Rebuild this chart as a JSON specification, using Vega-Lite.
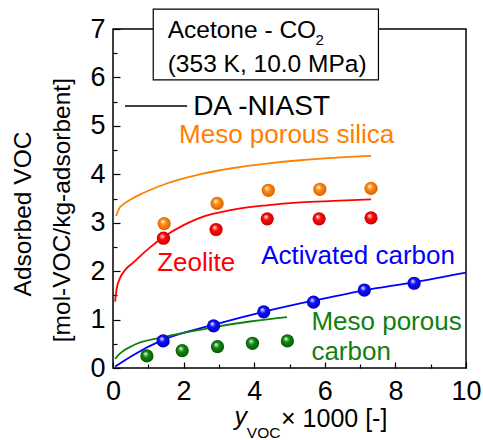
{
  "$schema": "https://vega.github.io/schema/vega-lite/v6.json",
  "width": 353,
  "height": 339,
  "autosize": "none",
  "padding": {"left": 113, "top": 29, "right": 17, "bottom": 72},
  "background": "white",
  "config": {
    "font": "Liberation Sans",
    "view": {"stroke": "black", "strokeWidth": 1.5},
    "axis": {"grid": false, "domain": false, "labelFont": "Liberation Sans", "labelColor": "black", "tickColor": "black"}
  },
  "datasets": {
    "pts": [
      {"s": "silica", "x": 1.45, "y": 2.98}, {"s": "silica", "x": 2.95, "y": 3.40}, {"s": "silica", "x": 4.40, "y": 3.67}, {"s": "silica", "x": 5.86, "y": 3.69}, {"s": "silica", "x": 7.31, "y": 3.71},
      {"s": "zeolite", "x": 1.43, "y": 2.68}, {"s": "zeolite", "x": 2.92, "y": 2.86}, {"s": "zeolite", "x": 4.37, "y": 3.08}, {"s": "zeolite", "x": 5.84, "y": 3.08}, {"s": "zeolite", "x": 7.31, "y": 3.10},
      {"s": "ac", "x": 1.42, "y": 0.56}, {"s": "ac", "x": 2.85, "y": 0.87}, {"s": "ac", "x": 4.27, "y": 1.16}, {"s": "ac", "x": 5.68, "y": 1.36}, {"s": "ac", "x": 7.12, "y": 1.61}, {"s": "ac", "x": 8.53, "y": 1.75},
      {"s": "mc", "x": 0.96, "y": 0.25}, {"s": "mc", "x": 1.96, "y": 0.36}, {"s": "mc", "x": 2.96, "y": 0.44}, {"s": "mc", "x": 3.95, "y": 0.51}, {"s": "mc", "x": 4.94, "y": 0.56}
    ],
    "curves": [
      {"s": "silica", "x": 0.09, "y": 3.14}, {"s": "silica", "x": 0.18, "y": 3.30}, {"s": "silica", "x": 0.29, "y": 3.38}, {"s": "silica", "x": 0.5, "y": 3.48}, {"s": "silica", "x": 0.76, "y": 3.58}, {"s": "silica", "x": 1.0, "y": 3.66}, {"s": "silica", "x": 1.52, "y": 3.81}, {"s": "silica", "x": 2.46, "y": 4.0}, {"s": "silica", "x": 3.41, "y": 4.13}, {"s": "silica", "x": 4.35, "y": 4.22}, {"s": "silica", "x": 5.3, "y": 4.29}, {"s": "silica", "x": 6.24, "y": 4.34}, {"s": "silica", "x": 7.31, "y": 4.38},
      {"s": "zeolite", "x": 0.06, "y": 1.37}, {"s": "zeolite", "x": 0.1, "y": 1.62}, {"s": "zeolite", "x": 0.2, "y": 1.86}, {"s": "zeolite", "x": 0.34, "y": 2.02}, {"s": "zeolite", "x": 0.58, "y": 2.18}, {"s": "zeolite", "x": 0.8, "y": 2.33}, {"s": "zeolite", "x": 1.05, "y": 2.49}, {"s": "zeolite", "x": 1.42, "y": 2.70}, {"s": "zeolite", "x": 2.0, "y": 2.95}, {"s": "zeolite", "x": 2.46, "y": 3.10}, {"s": "zeolite", "x": 3.41, "y": 3.27}, {"s": "zeolite", "x": 4.35, "y": 3.36}, {"s": "zeolite", "x": 5.3, "y": 3.42}, {"s": "zeolite", "x": 6.24, "y": 3.45}, {"s": "zeolite", "x": 7.31, "y": 3.48},
      {"s": "ac", "x": 0.06, "y": 0.03}, {"s": "ac", "x": 0.58, "y": 0.27}, {"s": "ac", "x": 1.41, "y": 0.58}, {"s": "ac", "x": 2.84, "y": 0.89}, {"s": "ac", "x": 4.26, "y": 1.16}, {"s": "ac", "x": 5.67, "y": 1.39}, {"s": "ac", "x": 7.09, "y": 1.60}, {"s": "ac", "x": 8.51, "y": 1.77}, {"s": "ac", "x": 10.0, "y": 1.97},
      {"s": "mc", "x": 0.06, "y": 0.19}, {"s": "mc", "x": 0.2, "y": 0.30}, {"s": "mc", "x": 0.58, "y": 0.47}, {"s": "mc", "x": 1.38, "y": 0.63}, {"s": "mc", "x": 2.84, "y": 0.84}, {"s": "mc", "x": 3.88, "y": 0.96}, {"s": "mc", "x": 4.93, "y": 1.05}
    ],
    "notes": [
      {"t": "Meso porous silica", "s": "silica", "x": 1.87, "y": 4.64},
      {"t": "Zeolite", "s": "zeolite", "x": 1.25, "y": 2.01},
      {"t": "Activated carbon", "s": "ac", "x": 4.2, "y": 2.15},
      {"t": "Meso porous", "s": "mc", "x": 5.62, "y": 0.79},
      {"t": "carbon", "s": "mc", "x": 5.62, "y": 0.155}
    ]
  },
  "layer": [
    {
      "data": {"name": "curves"},
      "mark": {"type": "line", "interpolate": "monotone", "strokeWidth": 1.8},
      "encoding": {
        "x": {"field": "x", "type": "quantitative", "scale": {"domain": [0, 10], "nice": false},
          "axis": {"orient": "bottom", "values": [0, 2, 4, 6, 8, 10], "tickSize": -6, "tickWidth": 1.2, "labelFontSize": 27, "labelPadding": 16, "labelFlush": false, "labelOverlap": false, "title": null}},
        "y": {"field": "y", "type": "quantitative", "scale": {"domain": [0, 7], "nice": false},
          "axis": {"orient": "left", "values": [0, 1, 2, 3, 4, 5, 6, 7], "tickSize": -7, "tickWidth": 1.2, "labelFontSize": 27, "labelPadding": 15, "labelFlush": false, "labelOverlap": false, "title": null}},
        "color": {"field": "s", "type": "nominal", "scale": {"domain": ["silica", "zeolite", "ac", "mc"], "range": ["#ff8000", "#ff0000", "#0000ff", "#108010"]}, "legend": null}
      }
    },
    {
      "data": {"name": "pts"},
      "transform": [{"filter": "datum.s === 'silica'"}],
      "mark": {"type": "point", "shape": "circle", "filled": true, "size": 175, "strokeWidth": 0, "opacity": 1,
        "fill": {"gradient": "radial", "x1": 0.38, "y1": 0.32, "r1": 0, "x2": 0.5, "y2": 0.5, "r2": 0.55,
          "stops": [{"offset": 0, "color": "#ffffff"}, {"offset": 0.15, "color": "#ffd0a0"}, {"offset": 0.4, "color": "#ff8a10"}, {"offset": 1, "color": "#d06000"}]}},
      "encoding": {
        "x": {"field": "x", "type": "quantitative", "scale": {"domain": [0, 10], "nice": false},
          "axis": {"orient": "bottom", "values": [1, 3, 5, 7, 9], "tickSize": -4, "tickWidth": 1.2, "labels": false, "title": null}},
        "y": {"field": "y", "type": "quantitative", "scale": {"domain": [0, 7], "nice": false},
          "axis": {"orient": "left", "values": [0.5, 1.5, 2.5, 3.5, 4.5, 5.5, 6.5], "tickSize": -4, "tickWidth": 1.2, "labels": false, "title": null}}
      }
    },
    {
      "data": {"name": "pts"},
      "transform": [{"filter": "datum.s === 'zeolite'"}],
      "mark": {"type": "point", "shape": "circle", "filled": true, "size": 175, "strokeWidth": 0, "opacity": 1,
        "fill": {"gradient": "radial", "x1": 0.38, "y1": 0.32, "r1": 0, "x2": 0.5, "y2": 0.5, "r2": 0.55,
          "stops": [{"offset": 0, "color": "#ffffff"}, {"offset": 0.15, "color": "#ffa0a0"}, {"offset": 0.4, "color": "#ff0a0a"}, {"offset": 1, "color": "#c00000"}]}},
      "encoding": {
        "x": {"field": "x", "type": "quantitative", "scale": {"domain": [0, 10], "nice": false}, "axis": null},
        "y": {"field": "y", "type": "quantitative", "scale": {"domain": [0, 7], "nice": false}, "axis": null}
      }
    },
    {
      "data": {"name": "pts"},
      "transform": [{"filter": "datum.s === 'ac'"}],
      "mark": {"type": "point", "shape": "circle", "filled": true, "size": 175, "strokeWidth": 0, "opacity": 1,
        "fill": {"gradient": "radial", "x1": 0.38, "y1": 0.32, "r1": 0, "x2": 0.5, "y2": 0.5, "r2": 0.55,
          "stops": [{"offset": 0, "color": "#ffffff"}, {"offset": 0.15, "color": "#a0a0ff"}, {"offset": 0.4, "color": "#1010ff"}, {"offset": 1, "color": "#0000b0"}]}},
      "encoding": {
        "x": {"field": "x", "type": "quantitative", "scale": {"domain": [0, 10], "nice": false}, "axis": null},
        "y": {"field": "y", "type": "quantitative", "scale": {"domain": [0, 7], "nice": false}, "axis": null}
      }
    },
    {
      "data": {"name": "pts"},
      "transform": [{"filter": "datum.s === 'mc'"}],
      "mark": {"type": "point", "shape": "circle", "filled": true, "size": 175, "strokeWidth": 0, "opacity": 1,
        "fill": {"gradient": "radial", "x1": 0.38, "y1": 0.32, "r1": 0, "x2": 0.5, "y2": 0.5, "r2": 0.55,
          "stops": [{"offset": 0, "color": "#ffffff"}, {"offset": 0.15, "color": "#a0d0a0"}, {"offset": 0.4, "color": "#108a10"}, {"offset": 1, "color": "#005500"}]}},
      "encoding": {
        "x": {"field": "x", "type": "quantitative", "scale": {"domain": [0, 10], "nice": false}, "axis": null},
        "y": {"field": "y", "type": "quantitative", "scale": {"domain": [0, 7], "nice": false}, "axis": null}
      }
    },
    {
      "data": {"values": [{"x": 1.14, "x2": 7.52, "y": 7.41, "y2": 5.95}]},
      "mark": {"type": "rect", "fill": "white", "stroke": "black", "strokeWidth": 1.2},
      "encoding": {
        "x": {"field": "x", "type": "quantitative", "scale": {"domain": [0, 10], "nice": false}, "axis": null},
        "x2": {"field": "x2"},
        "y": {"field": "y", "type": "quantitative", "scale": {"domain": [0, 7], "nice": false}, "axis": null},
        "y2": {"field": "y2"}
      }
    },
    {
      "data": {"values": [{"x": 0.34, "x2": 2.10, "y": 5.41}]},
      "mark": {"type": "rule", "color": "black", "strokeWidth": 1.5},
      "encoding": {
        "x": {"field": "x", "type": "quantitative", "scale": {"domain": [0, 10], "nice": false}, "axis": null},
        "x2": {"field": "x2"},
        "y": {"field": "y", "type": "quantitative", "scale": {"domain": [0, 7], "nice": false}, "axis": null}
      }
    },
    {
      "data": {"values": [{"t": "Acetone - CO", "x": 1.55, "y": 6.81}, {"t": "(353 K, 10.0 MPa)", "x": 1.55, "y": 6.11}]},
      "mark": {"type": "text", "align": "left", "baseline": "alphabetic", "font": "Liberation Sans", "fontSize": 24.5, "color": "black"},
      "encoding": {
        "x": {"field": "x", "type": "quantitative", "scale": {"domain": [0, 10], "nice": false}, "axis": null},
        "y": {"field": "y", "type": "quantitative", "scale": {"domain": [0, 7], "nice": false}, "axis": null},
        "text": {"field": "t"}
      }
    },
    {
      "data": {"values": [{"t": "2", "x": 5.74, "y": 6.67}]},
      "mark": {"type": "text", "align": "left", "baseline": "alphabetic", "font": "Liberation Sans", "fontSize": 15, "color": "black"},
      "encoding": {
        "x": {"field": "x", "type": "quantitative", "scale": {"domain": [0, 10], "nice": false}, "axis": null},
        "y": {"field": "y", "type": "quantitative", "scale": {"domain": [0, 7], "nice": false}, "axis": null},
        "text": {"field": "t"}
      }
    },
    {
      "data": {"values": [{"t": "DA -NIAST", "x": 2.27, "y": 5.22}]},
      "mark": {"type": "text", "align": "left", "baseline": "alphabetic", "font": "Liberation Sans", "fontSize": 28, "color": "black"},
      "encoding": {
        "x": {"field": "x", "type": "quantitative", "scale": {"domain": [0, 10], "nice": false}, "axis": null},
        "y": {"field": "y", "type": "quantitative", "scale": {"domain": [0, 7], "nice": false}, "axis": null},
        "text": {"field": "t"}
      }
    },
    {
      "data": {"name": "notes"},
      "mark": {"type": "text", "align": "left", "baseline": "alphabetic", "font": "Liberation Sans", "fontSize": 26},
      "encoding": {
        "x": {"field": "x", "type": "quantitative", "scale": {"domain": [0, 10], "nice": false}, "axis": null},
        "y": {"field": "y", "type": "quantitative", "scale": {"domain": [0, 7], "nice": false}, "axis": null},
        "text": {"field": "t"},
        "color": {"field": "s", "type": "nominal", "scale": {"domain": ["silica", "zeolite", "ac", "mc"], "range": ["#ff8000", "#ff0000", "#0000ff", "#108010"]}, "legend": null}
      }
    },
    {
      "data": {"values": [{"t": "Adsorbed VOC", "x": -2.52, "y": 3.18}, {"t": "[mol-VOC/kg-adsorbent]", "x": -1.42, "y": 3.26}]},
      "mark": {"type": "text", "align": "center", "baseline": "middle", "angle": 270, "font": "Liberation Sans", "fontSize": 24.5, "color": "black"},
      "encoding": {
        "x": {"field": "x", "type": "quantitative", "scale": {"domain": [0, 10], "nice": false}, "axis": null},
        "y": {"field": "y", "type": "quantitative", "scale": {"domain": [0, 7], "nice": false}, "axis": null},
        "text": {"field": "t"}
      }
    },
    {
      "data": {"values": [{"t": "y", "x": 3.44, "y": -1.17}]},
      "mark": {"type": "text", "align": "left", "baseline": "alphabetic", "font": "Liberation Sans", "fontStyle": "italic", "fontSize": 25, "color": "black"},
      "encoding": {
        "x": {"field": "x", "type": "quantitative", "scale": {"domain": [0, 10], "nice": false}, "axis": null},
        "y": {"field": "y", "type": "quantitative", "scale": {"domain": [0, 7], "nice": false}, "axis": null},
        "text": {"field": "t"}
      }
    },
    {
      "data": {"values": [{"t": "VOC", "x": 3.79, "y": -1.45}]},
      "mark": {"type": "text", "align": "left", "baseline": "alphabetic", "font": "Liberation Sans", "fontSize": 15.5, "color": "black"},
      "encoding": {
        "x": {"field": "x", "type": "quantitative", "scale": {"domain": [0, 10], "nice": false}, "axis": null},
        "y": {"field": "y", "type": "quantitative", "scale": {"domain": [0, 7], "nice": false}, "axis": null},
        "text": {"field": "t"}
      }
    },
    {
      "data": {"values": [{"t": "× 1000 [-]", "x": 4.76, "y": -1.21}]},
      "mark": {"type": "text", "align": "left", "baseline": "alphabetic", "font": "Liberation Sans", "fontSize": 25, "color": "black"},
      "encoding": {
        "x": {"field": "x", "type": "quantitative", "scale": {"domain": [0, 10], "nice": false}, "axis": null},
        "y": {"field": "y", "type": "quantitative", "scale": {"domain": [0, 7], "nice": false}, "axis": null},
        "text": {"field": "t"}
      }
    }
  ],
  "resolve": {"axis": {"x": "independent", "y": "independent"}}
}
